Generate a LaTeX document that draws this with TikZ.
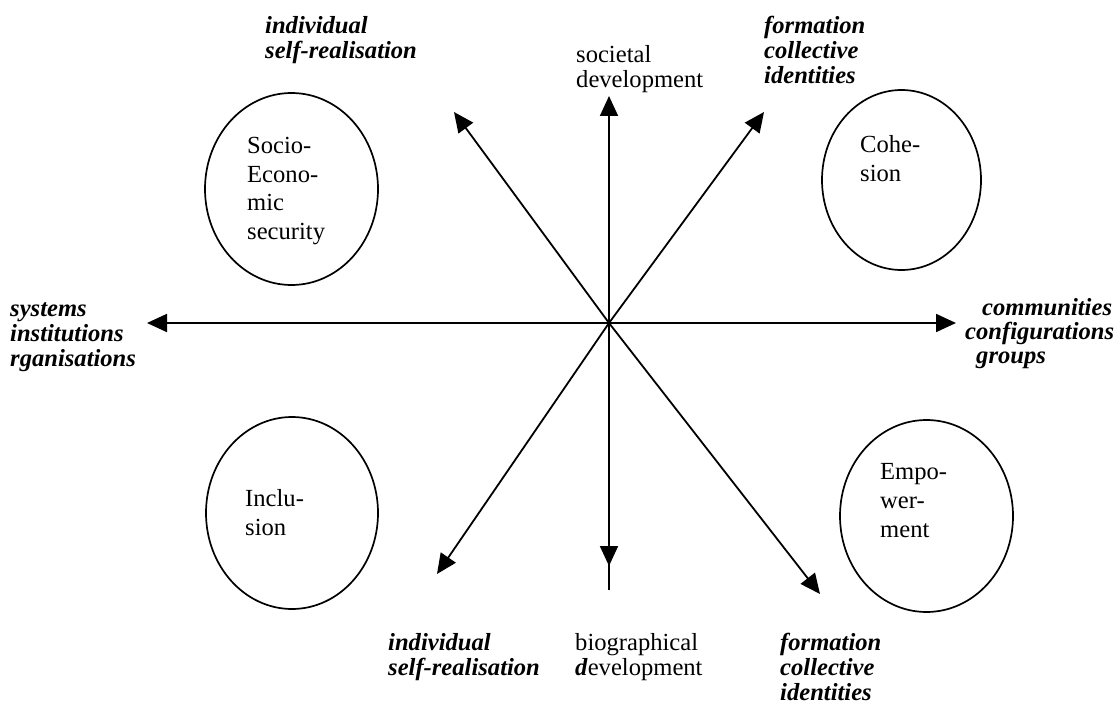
\documentclass[tikz,border=0pt]{standalone}
\usepackage{fontspec}
\setmainfont{Liberation Serif}
\usetikzlibrary{arrows.meta}
\begin{document}
\begin{tikzpicture}[x=1pt,y=-1pt,
  axis/.style={line width=1.8pt},
  arr/.style={line width=1.8pt,-{Triangle[length=20pt,width=18pt]}},
  lbl/.style={anchor=base west,inner sep=0pt,align=left,font=\fontsize{24.6}{25}\selectfont\bfseries\itshape},
  plain/.style={anchor=base west,inner sep=0pt,align=left,font=\fontsize{24.6}{25}\selectfont},
  intxt/.style={anchor=base west,inner sep=0pt,align=left,font=\fontsize{24.6}{29}\selectfont},
  oval/.style={draw,line width=1.7pt}]
\useasboundingbox (0,0) rectangle (1117,706);
\coordinate (c) at (609,323);
\coordinate (L) at (147,323);
\coordinate (R) at (956,323);
\coordinate (T) at (609,96);
\coordinate (B) at (609,566);
\coordinate (Bend) at (609,590);
\coordinate (UL) at (454,112);
\coordinate (UR) at (764,112);
\coordinate (LL) at (437,574);
\coordinate (LR) at (820,594);
\draw[arr] (c) -- (L);
\draw[arr] (c) -- (R);
\draw[arr] (c) -- (T);
\draw[axis] (c) -- (Bend);
\draw[arr] (c) -- (B);
\draw[arr] (c) -- (UL);
\draw[arr] (c) -- (UR);
\draw[arr] (c) -- (LL);
\draw[arr] (c) -- (LR);
% ellipses
\draw[oval] (291.5,189) ellipse (86.5pt and 96pt);
\draw[oval] (901.5,180) ellipse (79.5pt and 90pt);
\draw[oval] (292,513) ellipse (86pt and 96pt);
\draw[oval] (926.5,516) ellipse (86.5pt and 96pt);
% ellipse texts
\node[intxt] (se) at (247,240) {Socio-\\Econo-\\mic\\security};
\node[intxt] (co) at (860,182) {Cohe-\\sion};
\node[intxt] (in) at (245,535) {Inclu-\\sion};
\node[intxt] (em) at (880,537) {Empo-\\wer-\\ment};
% labels
\node[lbl] (ul) at (265,59) {individual\\self-realisation};
\node[plain] (sd) at (576,88) {societal\\development};
\node[lbl] (ur) at (764,84) {formation\\collective\\identities};
\node[lbl] (sy) at (10,366) {systems\\institutions\\rganisations};
\node[lbl] (cm) at (982,315) {communities};
\node[lbl] (cf) at (965,339) {configurations};
\node[lbl] (gr) at (976,363) {groups};
\node[lbl] (ll) at (388,675) {individual\\self-realisation};
\node[plain] (bd) at (575,675) {biographical\\\textbf{\textit{d}}evelopment};
\node[lbl] (lr) at (780,700) {formation\\collective\\identities};
\end{tikzpicture}
\end{document}
